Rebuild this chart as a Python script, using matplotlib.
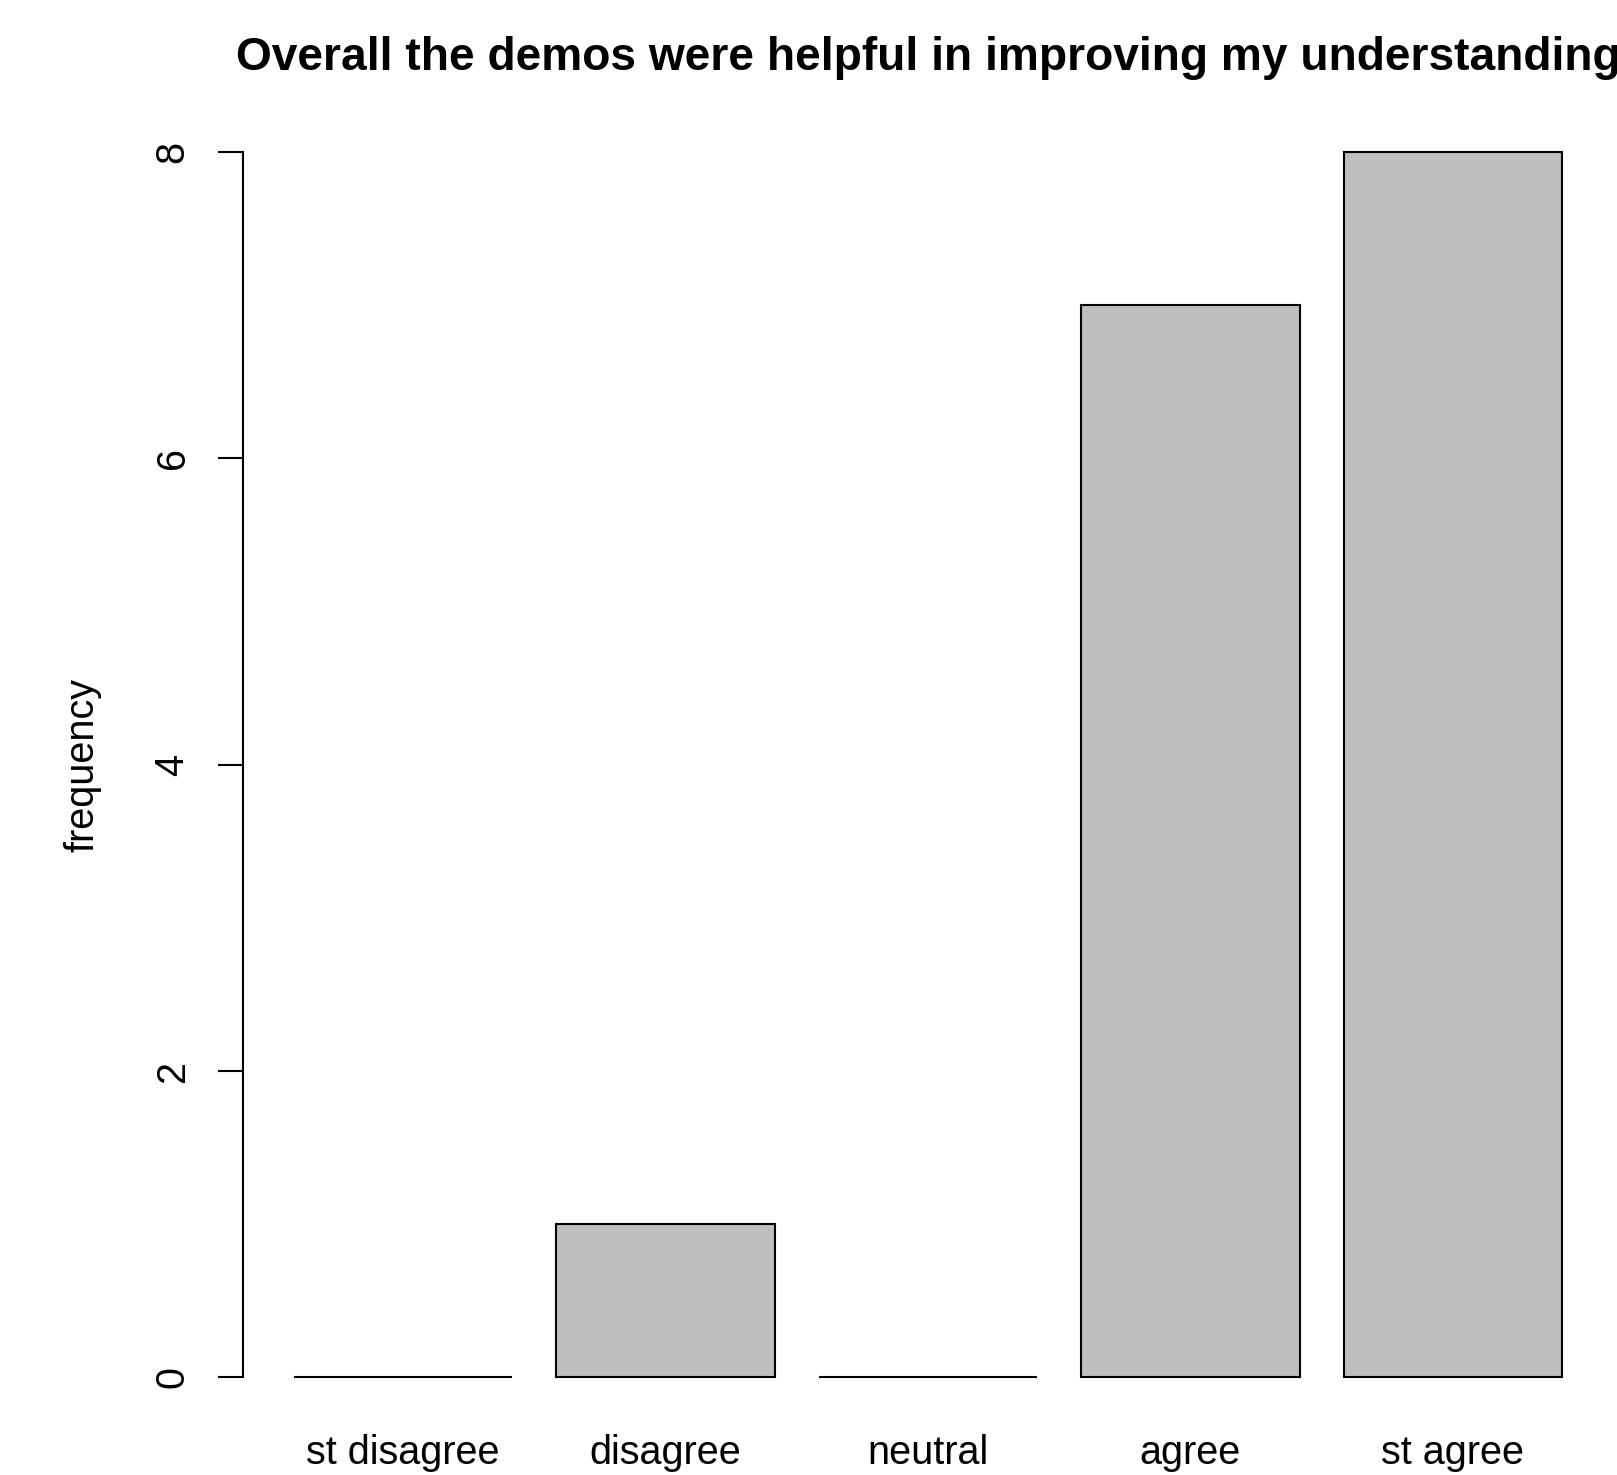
import matplotlib
matplotlib.use("Agg")
import matplotlib.pyplot as plt

# survey responses
categories = ["st disagree", "disagree", "neutral", "agree", "st agree"]
counts = [0, 1, 0, 7, 8]
y_ticks = [0, 2, 4, 6, 8]

plt.rcParams["font.family"] = ["Liberation Sans", "DejaVu Sans"]

W, H = 1617, 1475
fig = plt.figure(figsize=(W / 100, H / 100), dpi=100)
# plot region in pixels: x 243..1613, y 103..1426
ax = fig.add_axes([243 / W, 1 - 1426 / H, 1370 / W, 1323 / H])

# R barplot style: width 1, space 0.2
xpos = [0.2 + 1.2 * i + 0.5 for i in range(len(categories))]
ax.bar(xpos, counts, width=1.0, color="#BEBEBE", edgecolor="black", linewidth=1.5)

ax.set_xlim(-0.032, 6.232)
ax.set_ylim(-0.32, 8.32)

for s in ["top", "right", "bottom"]:
    ax.spines[s].set_visible(False)
ax.spines["left"].set_bounds(0, 8)
ax.spines["left"].set_linewidth(1.5)

ax.set_yticks(y_ticks)
ax.set_yticklabels([str(v) for v in y_ticks], rotation=90, va="center", fontsize=28.5)
ax.tick_params(axis="y", length=18, width=1.5, pad=19)

ax.set_xticks(xpos)
ax.set_xticklabels(categories, fontsize=28.5)
ax.tick_params(axis="x", length=0, pad=6)

ax.set_ylabel("frequency", fontsize=28.5)
ax.yaxis.set_label_coords(-0.1035, 0.5)

# title is centred on the plot region and runs off the right edge, as in the original
fig.text(928 / W, 1 - 70 / H, "Overall the demos were helpful in improving my understanding",
         ha="center", va="baseline", fontsize=33.2, fontweight="bold")

fig.savefig("out.png", dpi=100)
